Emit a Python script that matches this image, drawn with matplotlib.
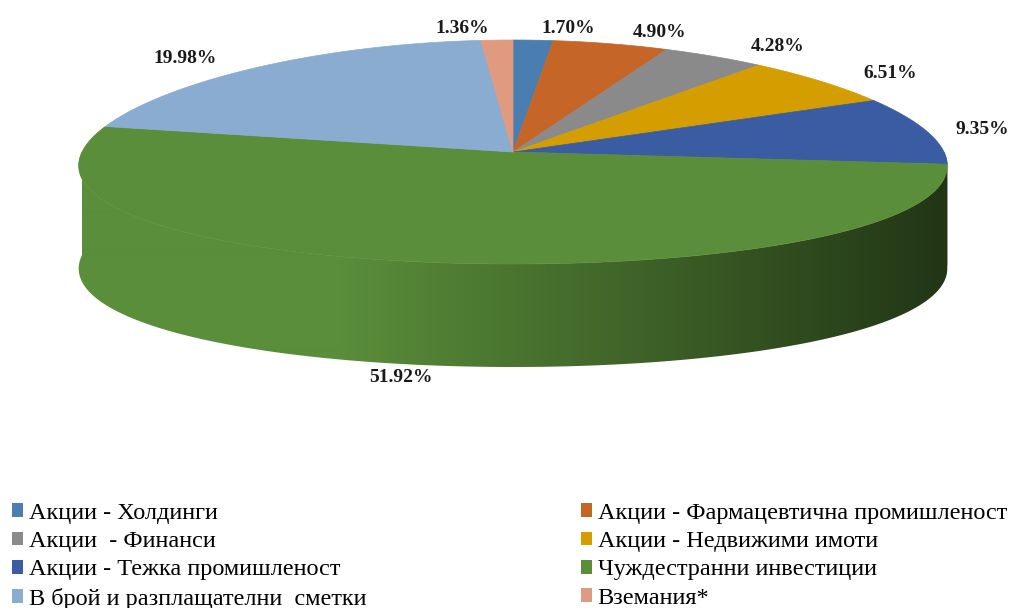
import matplotlib

matplotlib.use("Agg")
import matplotlib.pyplot as plt
import numpy as np
from matplotlib.colors import to_rgb
from matplotlib.patches import Patch, Polygon

# data
labels = [
    "Акции - Холдинги",
    "Акции - Фармацевтична промишленост",
    "Акции  - Финанси",
    "Акции - Недвижими имоти",
    "Акции - Тежка промишленост",
    "Чуждестранни инвестиции",
    "В брой и разплащателни  сметки",
    "Вземания*",
]
shares = [1.70, 4.90, 4.28, 6.51, 9.35, 51.92, 19.98, 1.36]
colors = ["#4A7EB0", "#C56628", "#8A8A8A", "#D49E00", "#3A5CA2", "#5A8E3A", "#8AACD1", "#E09A80"]

# geometry of the 3d pie, in pixel units
CX, CY = 513, 152
RX, RY = 431, 112
DEPTH = 103
PERSP = 0.125
W, H = 1020, 608


def rim(t):
    x = CX + RX * np.sin(t) * (1 - PERSP * np.cos(t))
    y = CY - RY * np.cos(t)
    return x, y


def shade(x):
    u = (x - (CX - RX)) / (2 * RX)
    return np.clip(1.0 - 0.62 * (u - 0.3) / 0.7, 0.38, 1.0)


fig = plt.figure(figsize=(10.2, 6.08), dpi=100)
ax = fig.add_axes([0, 0, 1, 1])
ax.set_xlim(0, W)
ax.set_ylim(H, 0)
ax.axis("off")

bounds = np.concatenate([[0], np.cumsum(shares)]) / sum(shares) * 2 * np.pi
xgrid = np.arange(W) + 0.5

# side walls (front half only), shaded left -> right
for i, c in enumerate(colors):
    t1, t2 = max(bounds[i], np.pi / 2), min(bounds[i + 1], 3 * np.pi / 2)
    if t2 <= t1:
        continue
    ts = np.linspace(t1, t2, 200)
    xs, ys = rim(ts)
    pts = list(zip(xs, ys)) + list(zip(xs[::-1], ys[::-1] + DEPTH))
    poly = Polygon(pts, closed=True, facecolor="none", edgecolor="none")
    ax.add_patch(poly)
    grad = np.array(to_rgb(c))[None, None, :] * shade(xgrid)[None, :, None]
    im = ax.imshow(grad, extent=(0, W, H, 0), aspect="auto", interpolation="bilinear", zorder=1)
    im.set_clip_path(poly)

ax.set_xlim(0, W)
ax.set_ylim(H, 0)

# top surface
for i, c in enumerate(colors):
    ts = np.linspace(bounds[i], bounds[i + 1], max(3, int(shares[i] * 8)))
    xs, ys = rim(ts)
    pts = [(CX, CY)] + list(zip(xs, ys))
    ax.add_patch(Polygon(pts, closed=True, facecolor=c, edgecolor=c, lw=0.5, zorder=2))

# percentage labels, anchored on the side facing away from the centre
for i, v in enumerate(shares):
    t = (bounds[i] + bounds[i + 1]) / 2
    side = 1 if np.sin(t) >= 0 else -1
    x = CX + side * 5 + 445 * np.sin(t)
    y = CY - 124 * np.cos(t)
    if np.cos(t) < 0:
        y += DEPTH
    ax.text(x, y, f"{v:.2f}%", ha="left" if side > 0 else "right", va="center",
            fontsize=14, fontweight="bold", family="Liberation Serif", color="#1a1a1a", zorder=3)

# legend, filled column-wise -> reorder
order = [0, 2, 4, 6, 1, 3, 5, 7]
handles = [Patch(facecolor=colors[k], edgecolor="none", label=labels[k]) for k in order]
fig.legend(handles=handles, loc="upper left", bbox_to_anchor=(0.012, 0.173), ncol=2,
           frameon=False, prop={"family": "Liberation Serif", "size": 17.5},
           handlelength=0.45, handleheight=0.5, handletextpad=0.25,
           labelspacing=0.3, columnspacing=8.8, borderpad=0, borderaxespad=0)

fig.savefig("out.png", dpi=100)
